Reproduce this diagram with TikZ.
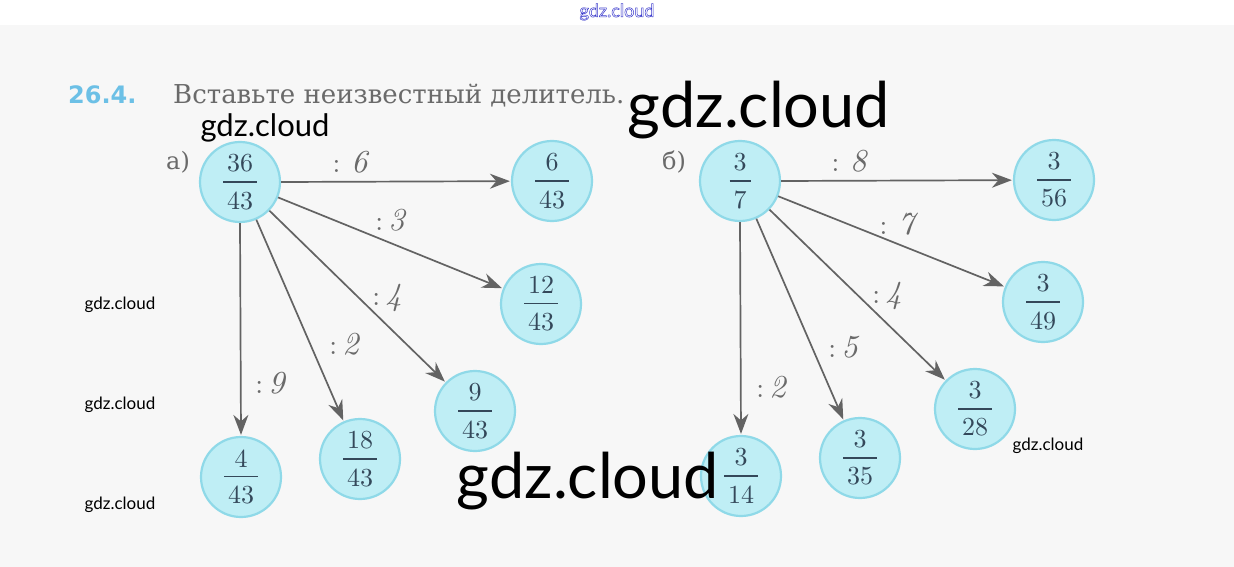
\documentclass[tikz,border=0pt]{standalone}
\usepackage{fontspec}
\setmainfont{Latin Modern Roman}
\newfontfamily\frfont{lmroman10-regular}[Extension=.otf]
\newfontfamily\labfont{lmroman10-italic}[Extension=.otf]
\newfontfamily\cyr{DejaVu Serif}
\newfontfamily\wm{Lato}
\newfontfamily\numsans{DejaVu Sans}
\usetikzlibrary{arrows.meta}
\definecolor{bgray}{HTML}{F7F7F7}
\definecolor{cfill}{HTML}{BFEEF5}
\definecolor{cdraw}{HTML}{8FD9E8}
\definecolor{ftext}{HTML}{34485A}
\definecolor{arrc}{HTML}{636363}
\definecolor{labc}{HTML}{6A6A6A}
\definecolor{tblue}{HTML}{6CC0E6}
\definecolor{topblue}{HTML}{3A3ACC}
\tikzset{
  fr/.style={circle, draw=cdraw, line width=2.2pt, fill=cfill, minimum size=80pt, inner sep=0pt, text=ftext, font=\frfont\fontsize{26}{30}\selectfont},
  arr/.style={draw=arrc, line width=1.7pt, -{Stealth[length=20pt,width=15pt]}, shorten >=1pt},
  lab/.style={text=labc, inner sep=0pt, font=\labfont\fontsize{32}{36}\selectfont},
  wmbig/.style={anchor=base, inner sep=0pt, text=black, font=\wm\fontsize{63}{70}\selectfont},
  wmmid/.style={anchor=base, inner sep=0pt, text=black, font=\wm\fontsize{31}{34}\selectfont},
  wmsmall/.style={anchor=base, inner sep=0pt, text=black, font=\wm\fontsize{17}{20}\selectfont},
}
\newcommand{\frc}[2]{\vbox{\halign{\hfil\kern4pt##\kern4pt\hfil\cr #1\cr\noalign{\kern9pt\hrule height1.3pt\kern9pt}#2\cr}}}
\newcommand{\lb}[1]{{\frfont\fontsize{28}{30}\selectfont:}\,#1}
\begin{document}
\begin{tikzpicture}[x=1pt,y=-1pt]
\useasboundingbox (0,0) rectangle (1234,567);
\fill[white] (0,0) rectangle (1234,25);
\fill[bgray] (0,25) rectangle (1234,567);
% top watermark (outlined)
\node[anchor=base, inner sep=0pt, text=topblue, font=\wm\fontsize{18}{20}\selectfont] (top) at (617,17) {\special{pdf:literal direct 1 Tr 0.5 w}gdz.cloud\special{pdf:literal direct 0 Tr}};
% title
\node[anchor=base west, inner sep=0pt, text=tblue, font=\numsans\bfseries\fontsize{24}{28}\selectfont] (num) at (68,104) {26.4.};
\node[anchor=base west, inner sep=0pt, text=labc, font=\cyr\fontsize{26}{30}\selectfont] (title) at (173,104) {Вставьте неизвестный делитель.};
\node[anchor=base west, inner sep=0pt, text=labc, font=\cyr\fontsize{24}{28}\selectfont] (pa) at (166,169) {а)};
\node[anchor=base west, inner sep=0pt, text=labc, font=\cyr\fontsize{24}{28}\selectfont] (pb) at (662,169) {б)};
% part a
\node[fr] (a0) at (240,182) {\frc{36}{43}};
\node[fr] (a1) at (552,181) {\frc{6}{43}};
\node[fr] (a2) at (541,304) {\frc{12}{43}};
\node[fr] (a3) at (475,411) {\frc{9}{43}};
\node[fr] (a4) at (360,459) {\frc{18}{43}};
\node[fr] (a5) at (241,477) {\frc{4}{43}};
\draw[arr] (a0.east) -- (a1);
\draw[arr] (a0) -- (a2);
\draw[arr] (a0) -- (a3);
\draw[arr] (a0) -- (a4);
\draw[arr] (a0.south) -- (a5.north);
\node[lab] (la1) at (350,162) {\lb{\,6}};
\node[lab] (la2) at (390,220) {\lb{3}};
\node[lab] (la3) at (387,298) {\lb{4}};
\node[lab] (la4) at (344,344) {\lb{2}};
\node[lab] (la5) at (270,383) {\lb{9}};
% part b
\node[fr] (b0) at (740,181) {\frc{3}{7}};
\node[fr] (b1) at (1054,180) {\frc{3}{56}};
\node[fr] (b2) at (1043,302) {\frc{3}{49}};
\node[fr] (b3) at (975,409) {\frc{3}{28}};
\node[fr] (b4) at (860,458) {\frc{3}{35}};
\node[fr] (b5) at (741,476) {\frc{3}{14}};
\draw[arr] (b0.east) -- (b1);
\draw[arr] (b0) -- (b2);
\draw[arr] (b0) -- (b3);
\draw[arr] (b0) -- (b4);
\draw[arr] (b0.south) -- (b5.north);
\node[lab] (lb1) at (849,161) {\lb{\,8}};
\node[lab] (lb2) at (897,224) {\lb{\,7}};
\node[lab] (lb3) at (887,296) {\lb{4}};
\node[lab] (lb4) at (843,347) {\lb{5}};
\node[lab] (lb5) at (771,387) {\lb{2}};
% watermarks
\node[wmbig] (w1) at (759,128) {gdz.cloud};
\node[wmbig] (w2) at (588,498) {gdz.cloud};
\node[wmmid] (w3) at (265,136) {gdz.cloud};
\node[wmsmall] (w4) at (120,309) {gdz.cloud};
\node[wmsmall] (w5) at (120,409) {gdz.cloud};
\node[wmsmall] (w6) at (120,509) {gdz.cloud};
\node[wmsmall] (w7) at (1048,450) {gdz.cloud};
\end{tikzpicture}
\end{document}
